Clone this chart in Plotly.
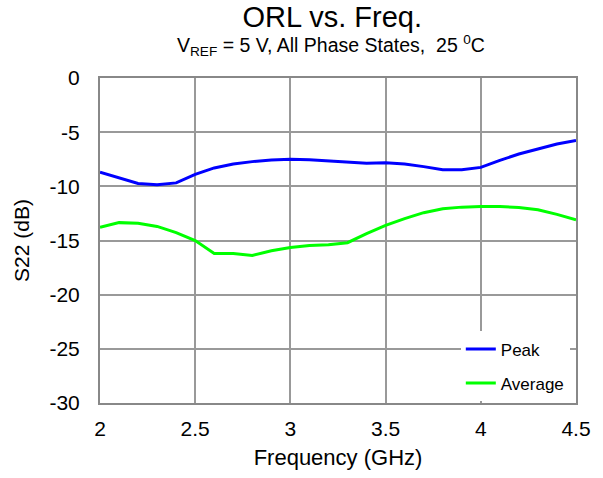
import plotly.graph_objects as go

freq = [2.0, 2.1, 2.2, 2.3, 2.4, 2.5, 2.6, 2.7, 2.8, 2.9, 3.0, 3.1, 3.2, 3.3, 3.4,
        3.5, 3.6, 3.7, 3.8, 3.9, 4.0, 4.1, 4.2, 4.3, 4.4, 4.5]
peak = [-8.7, -9.2, -9.74, -9.86, -9.68, -8.9, -8.3, -7.94, -7.72, -7.57, -7.5, -7.54,
        -7.66, -7.75, -7.88, -7.82, -7.94, -8.18, -8.46, -8.46, -8.25, -7.6, -7.02,
        -6.56, -6.1, -5.77]
average = [-13.78, -13.35, -13.4, -13.7, -14.27, -15.0, -16.2, -16.2, -16.38, -15.95,
           -15.65, -15.46, -15.4, -15.2, -14.36, -13.6, -12.98, -12.43, -12.07, -11.92,
           -11.86, -11.86, -11.95, -12.16, -12.59, -13.1]
x_ticks = [2, 2.5, 3, 3.5, 4, 4.5]
x_tick_labels = ["2", "2.5", "3", "3.5", "4", "4.5"]
y_ticks = [0, -5, -10, -15, -20, -25, -30]
y_tick_labels = ["0", "-5", "-10", "-15", "-20", "-25", "-30"]

font = "Liberation Sans, Arial, sans-serif"

fig = go.Figure()
fig.add_trace(go.Scatter(x=freq, y=peak, mode="lines", name="Peak", legendgroup="a",
                         line=dict(color="#0000ff", width=3)))
fig.add_trace(go.Scatter(x=freq, y=average, mode="lines", name="Average", legendgroup="b",
                         line=dict(color="#00ff00", width=3)))

fig.update_layout(
    width=603, height=478,
    margin=dict(l=100, r=26, t=78, b=73),
    paper_bgcolor="white", plot_bgcolor="white",
    font=dict(family=font, color="black", size=21),
    title=dict(text="ORL vs. Freq.", x=0.551, xanchor="center",
               y=1 - 17 / 478, yanchor="middle", font=dict(size=29, family=font)),
    annotations=[dict(
        text="V<sub>REF</sub> = 5 V, All Phase States,  25 <sup>0</sup>C",
        xref="paper", yref="paper", x=0.486, y=1 + 33 / 327,
        xanchor="center", yanchor="middle", showarrow=False,
        font=dict(size=19.5, family=font))],
    showlegend=True,
    legend=dict(x=0.987, y=0.005, xanchor="right", yanchor="bottom",
                bgcolor="white", borderwidth=0, font=dict(size=17),
                traceorder="grouped", tracegroupgap=9),
    xaxis=dict(range=[2, 4.5], tickvals=x_ticks, ticktext=x_tick_labels,
               showgrid=True, gridcolor="#999999", gridwidth=1.5,
               showline=True, linecolor="#888888", linewidth=2, mirror=True,
               ticks="", zeroline=False, ticklabelstandoff=6,
               title=dict(text="Frequency (GHz)", font=dict(size=22), standoff=10),
               tickfont=dict(size=21)),
    yaxis=dict(range=[-30, 0], tickvals=y_ticks, ticktext=y_tick_labels,
               showgrid=True, gridcolor="#999999", gridwidth=1.5,
               showline=True, linecolor="#888888", linewidth=2, mirror=True,
               ticks="", zeroline=False, ticklabelstandoff=14,
               title=dict(text="S22 (dB)", font=dict(size=21), standoff=14),
               tickfont=dict(size=21)),
)

fig.write_html("out.html", config={"displayModeBar": False},
               post_script="document.body.style.margin='0';")
